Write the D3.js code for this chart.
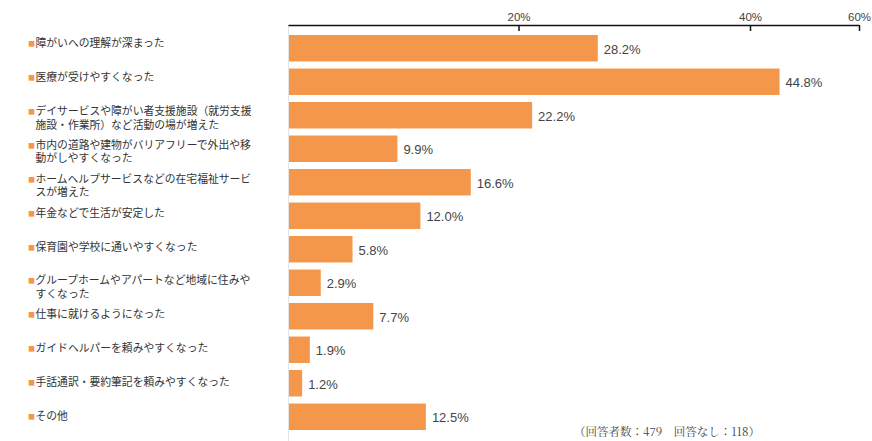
<!DOCTYPE html>
<html><head><meta charset="utf-8">
<script src="https://cdn.jsdelivr.net/npm/d3@7"></script>
<style>body{margin:0;background:#fff}svg{display:block}</style>
</head><body><svg id="c" width="872" height="441"></svg>
<script>
const categories = [
  "障がいへの理解が深まった",
  "医療が受けやすくなった",
  "デイサービスや障がい者支援施設（就労支援\n施設・作業所）など活動の場が増えた",
  "市内の道路や建物がバリアフリーで外出や移\n動がしやすくなった",
  "ホームヘルプサービスなどの在宅福祉サービ\nスが増えた",
  "年金などで生活が安定した",
  "保育園や学校に通いやすくなった",
  "グループホームやアパートなど地域に住みや\nすくなった",
  "仕事に就けるようになった",
  "ガイドヘルパーを頼みやすくなった",
  "手話通訳・要約筆記を頼みやすくなった",
  "その他"
];
const values = [28.2, 44.8, 22.2, 9.9, 16.6, 12.0, 5.8, 2.9, 7.7, 1.9, 1.2, 12.5];
const tickValues = [20, 40, 60];
const tickLabels = ["20%", "40%", "60%"];
const note = "（回答者数：479　回答なし：118）";

const svg = d3.select("#c");
const orange = "#F4974A";

// scales
const x = d3.scaleLinear().domain([0, 45]).range([289, 781.75]);
const xAxisScale = d3.scaleLinear().domain([0, 20, 40, 60]).range([288, 518.5, 750, 859]);
const y = d3.scaleBand().domain(categories).range([31.5, 433.5]).paddingInner(0.21).paddingOuter(0.105);
const labelY = d3.scalePoint().domain(categories).range([43.3, 416]);

// faint vertical baseline
svg.append("line")
  .attr("x1", 288.5).attr("x2", 288.5)
  .attr("y1", 25).attr("y2", 441)
  .attr("stroke", "#e4e4e4").attr("stroke-width", 1);

// axis
const axis = d3.axisTop(xAxisScale)
  .tickValues(tickValues)
  .tickFormat((d, i) => tickLabels[i])
  .tickSizeInner(-6).tickSizeOuter(0).tickPadding(4);
const gAxis = svg.append("g").attr("transform", "translate(0,25)").call(axis);
gAxis.select(".domain").attr("stroke", "#111").attr("stroke-width", 1.5);
gAxis.selectAll(".tick line").attr("stroke", "#111").attr("stroke-width", 1.5);
gAxis.selectAll(".tick text")
  .attr("font-family", "'Liberation Sans', Arial, sans-serif")
  .attr("font-size", 11.5).attr("fill", "#444");

// bars
svg.append("g").selectAll("rect").data(categories).join("rect")
  .attr("x", x(0))
  .attr("y", d => y(d))
  .attr("width", (d, i) => x(values[i]) - x(0))
  .attr("height", y.bandwidth())
  .attr("fill", orange);

// value labels
svg.append("g").selectAll("text").data(categories).join("text")
  .attr("x", (d, i) => x(values[i]) + 6)
  .attr("y", d => y(d) + y.bandwidth() / 2 + 1)
  .attr("dominant-baseline", "central")
  .attr("font-family", "'Liberation Sans', Arial, sans-serif")
  .attr("font-size", 13).attr("fill", "#444")
  .text((d, i) => values[i].toFixed(1) + "%");

// category labels
const labelFont = "'Liberation Sans', 'Noto Sans CJK JP', sans-serif";
const lab = svg.append("g").selectAll("g").data(categories).join("g");
lab.append("text")
  .attr("x", 28).attr("y", d => labelY(d))
  .attr("dominant-baseline", "central")
  .attr("font-family", "'Noto Sans CJK JP', sans-serif")
  .attr("font-size", 7).attr("fill", orange)
  .text("■");
lab.selectAll("text.line").data(d => d.split("\n").map((s, i) => ({s, d, i}))).join("text")
  .attr("class", "line")
  .attr("font-family", labelFont)
  .attr("font-size", 10.8).attr("fill", "#333")
  .attr("dominant-baseline", "central")
  .attr("x", 35.5)
  .attr("y", t => labelY(t.d) + t.i * 13.5)
  .text(t => t.s);

// note
svg.append("text")
  .attr("x", 574).attr("y", 431)
  .attr("dominant-baseline", "central")
  .attr("font-family", "'Noto Serif CJK JP', 'DejaVu Serif', serif")
  .attr("font-size", 11.5).attr("fill", "#444")
  .text(note);
</script></body></html>
